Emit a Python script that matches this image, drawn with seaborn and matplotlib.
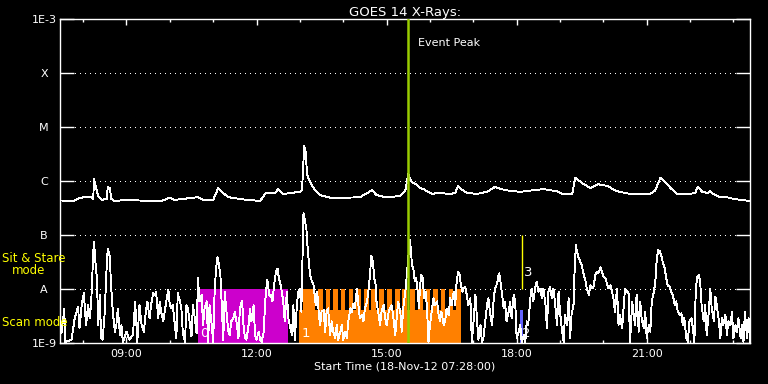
import numpy as np
import pandas as pd
import matplotlib
matplotlib.use("Agg")
import matplotlib.pyplot as plt
import matplotlib.dates as mdates
from matplotlib.ticker import FixedLocator, NullLocator
import seaborn as sns

# --- data ---------------------------------------------------------------
START = pd.Timestamp("2012-11-18 07:28:00")
SPAN_MIN = 955  # plotted window length in minutes

# GOES 14 long channel: minutes after start, log10 flux (W/m^2)
long_min = [0, 18, 28, 35, 43, 46, 47, 50, 53, 58, 65, 66, 69, 71, 75, 93, 138, 152, 159, 184,
            191, 198, 212, 219, 224, 233, 253, 277, 285, 298, 302, 309, 332, 335, 338, 340, 342, 345, 349, 353,
            360, 374, 395, 415, 432, 438, 450, 471, 478, 482, 485, 489, 494, 498, 503, 508, 516, 522, 540, 547,
            551, 557, 564, 577, 591, 602, 616, 637, 669, 688, 696, 709, 713, 723, 734, 745, 757, 771, 789, 817,
            824, 831, 838, 845, 854, 872, 879, 883, 889, 896, 900, 904, 914, 923, 932, 942, 955]
long_log = [-6.36, -6.37, -6.31, -6.30, -6.30, -6.33, -5.97, -6.13, -6.28, -6.35, -6.33, -6.11, -6.13, -6.33, -6.37,
            -6.35, -6.38, -6.31, -6.35, -6.31, -6.30, -6.35, -6.35, -6.13, -6.20, -6.30, -6.34, -6.37, -6.22, -6.22,
            -6.15, -6.24, -6.20, -6.17, -5.35, -5.46, -5.89, -5.98, -6.09, -6.17, -6.26, -6.31, -6.31, -6.30, -6.17,
            -6.26, -6.30, -6.28, -6.17, -5.87, -5.98, -6.04, -6.07, -6.13, -6.15, -6.19, -6.24, -6.22, -6.24, -6.22,
            -6.09, -6.17, -6.22, -6.24, -6.20, -6.11, -6.17, -6.20, -6.15, -6.19, -6.24, -6.24, -5.94, -6.04, -6.13,
            -6.06, -6.09, -6.19, -6.24, -6.24, -6.17, -5.94, -6.02, -6.13, -6.24, -6.24, -6.22, -6.11, -6.20, -6.22,
            -6.19, -6.24, -6.30, -6.30, -6.33, -6.35, -6.37]

# GOES 14 short channel: minutes after start, log10 flux (W/m^2)
short_min = [
    2, 6, 7, 16, 20, 23, 25, 27, 30, 33, 36, 39, 41, 43, 46, 47, 49, 51, 53, 55,
    57, 59, 62, 64, 66, 69, 70, 72, 74, 76, 78, 80, 83, 85, 87, 92, 96, 101, 104, 107,
    110, 113, 116, 119, 121, 124, 126, 129, 131, 133, 136, 138, 140, 143, 145, 147, 150, 152, 154, 156,
    159, 161, 163, 166, 168, 170, 173, 175, 177, 180, 182, 184, 186, 189, 191, 193, 196, 198, 200, 203,
    205, 207, 210, 212, 214, 216, 218, 220, 222, 223, 226, 228, 230, 233, 235, 237, 240,
    242, 245, 247, 249, 252, 254, 256, 258, 261, 263, 265, 268, 270, 272, 275, 277, 279, 282, 284, 286,
    287, 290, 292, 294, 297, 299, 301, 303,
    305, 307, 309, 311, 314, 316, 318, 321, 323, 325, 328, 330, 332,
    334, 337, 341, 342, 344, 346, 348, 351, 353, 354, 356, 358,
    360, 362, 365, 367, 369, 371, 374, 376, 378, 381, 383, 385, 388, 390, 392, 395, 397, 399, 402, 404,
    406, 408, 411, 413, 415, 418, 420, 422, 425, 427, 429, 431, 433, 435, 437,
    438, 441, 443, 445, 448, 450, 452, 455, 457, 459, 461, 464, 466, 468, 471,
    473, 475, 478, 480, 482, 484, 486, 487, 489, 491, 493, 495, 497, 498, 500, 502, 504, 506, 508,
    510, 512, 515, 517, 519, 522, 524, 526, 528, 531, 533, 535, 538, 540, 542, 545, 547, 549,
    551, 553, 555, 557, 558,
    561, 563, 565, 568, 570, 572, 575, 577, 579, 582, 584, 586, 588, 591, 593, 595, 598, 600, 602, 605, 607,
    608, 610, 612, 614,
    616, 618, 621, 623, 625, 628, 630, 632, 635, 637, 639, 642, 644, 646, 648, 651, 653, 655, 658, 660,
    662, 665, 667, 669, 672, 674, 676, 678, 681, 683, 685, 688, 690, 692, 695, 697, 699, 702, 704, 706,
    708, 711, 712, 714,
    715, 718, 720, 722, 725, 727, 729, 732, 734, 736, 738, 741, 743, 745, 748, 750, 752, 755, 757, 759,
    762, 764, 766, 768, 771, 773, 775, 778, 780, 782, 785, 787, 789, 792, 794, 796, 798, 801, 803, 805,
    808, 810, 812, 815, 817, 819, 822, 824, 826,
    828, 830, 832, 834, 837, 839, 841, 844, 846, 848, 851, 853, 855, 858, 860, 862, 864, 867, 869, 871,
    874, 876, 878, 880,
    882, 884, 886, 888, 891, 893, 895, 898, 900, 902, 905, 907, 909, 912, 914, 916, 918, 921, 923, 925,
    928, 930, 932, 935, 937, 939, 942, 944, 946, 948, 951, 953, 955]
short_log = [
    -8.82, -8.36, -8.98, -8.94, -8.57, -8.42, -8.33, -8.73, -8.30, -8.08, -8.67, -8.30, -8.54, -8.30, -7.34,
    -7.12, -7.49, -7.80, -8.67, -8.11, -8.91, -8.94, -8.42, -7.74, -7.26, -7.40, -7.74, -8.23, -8.54, -8.79,
    -8.67, -8.36, -8.85, -8.67, -8.98, -8.79, -8.94, -8.85, -8.23, -8.98, -8.30, -8.67, -8.79, -8.39, -8.23,
    -8.54, -8.30, -8.08, -8.11, -8.05, -8.54, -8.23, -8.42, -8.60, -8.42, -8.23, -8.02, -8.30, -8.36, -8.30,
    -8.67, -8.91, -8.08, -8.23, -8.36, -8.82, -8.98, -8.30, -8.36, -8.67, -8.88, -8.30, -8.48, -8.82, -7.80,
    -8.23, -8.11, -8.67, -8.36, -8.23, -8.98, -8.30, -8.67, -8.98, -8.05, -7.62, -7.41, -7.56, -7.74, -8.05,
    -8.94, -8.05, -8.36, -8.79, -8.85, -8.60, -8.54,
    -8.42, -8.67, -8.91, -8.36, -8.22, -8.67, -8.91, -8.94, -8.67, -8.36, -8.60, -8.30, -8.85, -8.94, -8.79,
    -8.94, -8.98, -8.79, -8.23, -7.93,
    -7.83, -8.14, -8.11, -8.23, -7.86, -7.68, -7.62, -7.80,
    -7.90, -8.05, -8.23, -8.60, -8.05, -8.54, -8.67, -8.85, -8.30, -8.94, -8.27, -8.05, -7.99,
    -8.42, -6.59, -6.88, -7.12, -7.43, -7.74, -7.83, -7.93, -8.17, -8.30, -8.05, -8.42,
    -8.67, -8.42, -8.39, -8.79, -8.42, -8.36, -8.85, -8.60, -8.79, -8.91, -8.67, -8.94, -8.79, -8.67, -8.94,
    -8.79, -8.91, -8.60, -8.36, -8.42, -8.27, -8.36, -7.99, -8.30, -8.54, -8.48, -8.60, -8.36, -8.23, -8.02,
    -7.74, -7.38, -7.49, -7.80, -7.93,
    -8.23, -8.48, -8.67, -8.42, -8.30, -8.54, -8.67, -8.42, -8.36, -8.30, -8.48, -8.85, -8.54, -8.23, -8.42,
    -8.79, -8.36, -8.05, -7.74, -7.43,
    -7.09, -7.31, -7.56, -7.62, -7.86, -7.80, -8.05, -8.36, -7.99, -7.74, -7.80, -8.17, -8.05, -8.36,
    -8.98, -8.67, -8.36, -8.17, -8.30, -8.23, -8.48, -8.60, -8.42, -8.67, -8.60, -8.36, -8.48, -8.17, -8.30,
    -8.05, -8.30, -7.86,
    -7.68, -7.74, -7.93, -8.05, -7.99,
    -7.96, -8.11, -8.30, -8.17, -8.98, -8.67, -8.11, -8.54, -8.94, -8.67, -8.98, -8.91, -8.67, -8.30, -8.17,
    -8.42, -8.67, -8.23, -7.99, -7.90, -7.74,
    -7.71, -7.90, -8.11, -8.36,
    -8.23, -8.60, -8.42, -8.23, -8.54, -8.11, -8.23, -8.91, -8.79, -8.67, -8.98, -8.85, -8.98, -8.60, -8.67,
    -8.17, -7.99, -8.23, -7.96, -7.86, -8.05, -7.99, -8.17, -7.99, -8.30, -8.73, -8.05, -7.96, -8.17, -7.99,
    -8.23, -8.67, -8.05, -8.42, -8.79, -8.98, -8.48, -8.67, -8.17, -8.91,
    -8.48, -8.27, -7.74, -7.19,
    -7.28, -7.43, -7.49, -7.56, -7.74, -7.83, -7.99, -8.11, -7.93, -7.99, -7.99, -7.74, -7.68, -7.71, -7.60,
    -7.68, -7.77, -7.80, -7.90, -7.99, -7.93, -8.05, -8.17, -8.42, -7.99, -8.67, -8.48, -8.73, -8.36, -7.99,
    -8.05, -8.08, -8.98, -8.23, -8.48, -8.67, -8.11, -8.79, -8.23, -8.54, -8.73, -8.42, -8.91, -8.67, -8.79,
    -8.23, -8.05, -7.86, -7.43,
    -7.28, -7.30, -7.37, -7.49, -7.62, -7.80, -7.93, -7.96, -8.05, -8.11, -8.30, -8.23, -8.42, -8.48, -8.45,
    -8.67, -8.54, -8.91, -8.98, -8.60, -8.54, -8.73, -8.98,
    -7.99,
    -7.77, -7.74, -7.86, -8.30, -8.60, -8.30, -8.85, -8.42, -7.99, -8.36, -8.60, -8.14, -8.30, -8.60, -8.91,
    -8.54, -8.67, -8.48, -8.85, -8.60, -8.67, -8.42, -8.91, -8.67, -8.79, -8.54, -8.91, -8.67, -8.98, -8.42,
    -8.91, -8.54, -8.98]

# flare class levels on the y axis
level_names = ["1E-9", "A", "B", "C", "M", "X", "1E-3"]
level_values = [1e-9, 1e-8, 1e-7, 1e-6, 1e-5, 1e-4, 1e-3]

# observation rasters (minutes after start, flux range)
raster_ids = ["0", "1", "2", "3"]
raster_start = [191, 331, 637, 639]
raster_end = [316, 555, 641, 639]
raster_low = [1e-9, 1e-9, 1e-9, 1e-8]
raster_high = [1e-8, 4e-9, 4e-9, 1e-7]
# raster 1 exposure steps (upper part of the scan block)
step_start = [336, 357, 368, 378, 389, 400, 410, 421, 431, 442, 453, 463, 474, 484, 495, 506, 516, 527, 538, 548]
step_end = [353, 364, 374, 385, 395, 406, 417, 427, 438, 448, 459, 470, 480, 491, 502, 512, 523, 533, 544, 555]
step_low, step_high = 4e-9, 1e-8

event_peak_min = 482

# --- plot ---------------------------------------------------------------
sns.set_theme(style="ticks")
plt.rcParams["font.family"] = ["DejaVu Sans"]

raster_colors = ["#cc00cc", "#ff8000", "#6464ff", "#ffff00"]

def to_time(minutes):
    return START + pd.to_timedelta(np.asarray(minutes, dtype=float), unit="min")

fig = plt.figure(figsize=(7.68, 3.84), dpi=100, facecolor="black")
ax = fig.add_axes([60 / 768, 41 / 384, 690 / 768, 324 / 384], facecolor="black")
ax.set_yscale("log")

# class level gridlines
for lvl in level_values[1:-1]:
    ax.axhline(lvl, color="white", lw=0.72, ls=(0, (1, 5)), antialiased=False, zorder=0.5)

# raster blocks
for rid, t0, t1, lo, hi, col in zip(raster_ids, raster_start, raster_end, raster_low, raster_high, raster_colors):
    if t0 == t1:
        ax.vlines(to_time([t0])[0], lo, hi, color=col, lw=1.0, zorder=1)
    else:
        ax.fill_between(to_time([t0, t1]), lo, hi, color=col, lw=0, zorder=1)
for s0, s1 in zip(step_start, step_end):
    ax.fill_between(to_time([s0, s1]), step_low, step_high, color=raster_colors[1], lw=0, zorder=1)

# GOES curves
for mins, logs in [(long_min, long_log), (short_min, short_log)]:
    sns.lineplot(x=to_time(mins), y=10.0 ** np.array(logs), ax=ax, color="white",
                 lw=0.65, estimator=None, sort=False, antialiased=False, zorder=2)

# raster numbers
for rid, t0, lo, hi in zip(raster_ids, raster_start, raster_low, raster_high):
    ylab = 1.5e-9 if lo == 1e-9 else 2e-8
    ax.annotate(rid, xy=(to_time([t0])[0], ylab), xytext=(1.5, 0), textcoords="offset points",
                color="white", fontsize=9.5, va="center", ha="left", zorder=4)

# event peak marker
t_evt = to_time([event_peak_min])[0]
ax.axvline(t_evt, color="#99cc00", lw=1.8, zorder=3)
ax.annotate("Event Peak", xy=(t_evt, 3.6e-4), xytext=(7, 0), textcoords="offset points",
            color="white", fontsize=8, va="center", ha="left")

# axes
ax.set_xlim(to_time([0])[0], to_time([SPAN_MIN])[0])
ax.set_ylim(level_values[0], level_values[-1])
ax.yaxis.set_major_locator(FixedLocator(level_values))
ax.yaxis.set_minor_locator(NullLocator())
ax.set_yticklabels(level_names)
ax.xaxis.set_major_locator(mdates.HourLocator(byhour=range(0, 24, 3)))
ax.xaxis.set_minor_locator(mdates.HourLocator())
ax.xaxis.set_major_formatter(mdates.DateFormatter("%H:%M"))

ax.tick_params(axis="y", which="major", direction="in", length=10, width=1, color="white",
               labelcolor="white", labelsize=8, left=True, right=True, pad=11.5)
for lbl in ax.get_yticklabels():
    lbl.set_horizontalalignment("center")
ax.tick_params(axis="x", which="major", direction="in", length=4.5, width=1, color="white",
               labelcolor="white", labelsize=8, top=True, bottom=True, pad=4)
ax.tick_params(axis="x", which="minor", direction="in", length=2.5, width=1, color="white",
               top=True, bottom=True)
for sp in ax.spines.values():
    sp.set_color("white")
    sp.set_linewidth(1)

ax.set_title("GOES 14 X-Rays:", color="white", fontsize=9.5, pad=2)
ax.set_xlabel("Start Time (18-Nov-12 07:28:00)", color="white", fontsize=8, labelpad=2)
ax.set_ylabel("")

# mode labels on the left
fig.text(2 / 768, 1 - 258 / 384, "Sit & Stare", color="yellow", fontsize=8.5, va="center", ha="left")
fig.text(12 / 768, 1 - 271 / 384, "mode", color="yellow", fontsize=8.5, va="center", ha="left")
fig.text(2 / 768, 1 - 323 / 384, "Scan mode", color="yellow", fontsize=8.5, va="center", ha="left")

fig.savefig("out.png", dpi=100, facecolor="black")
